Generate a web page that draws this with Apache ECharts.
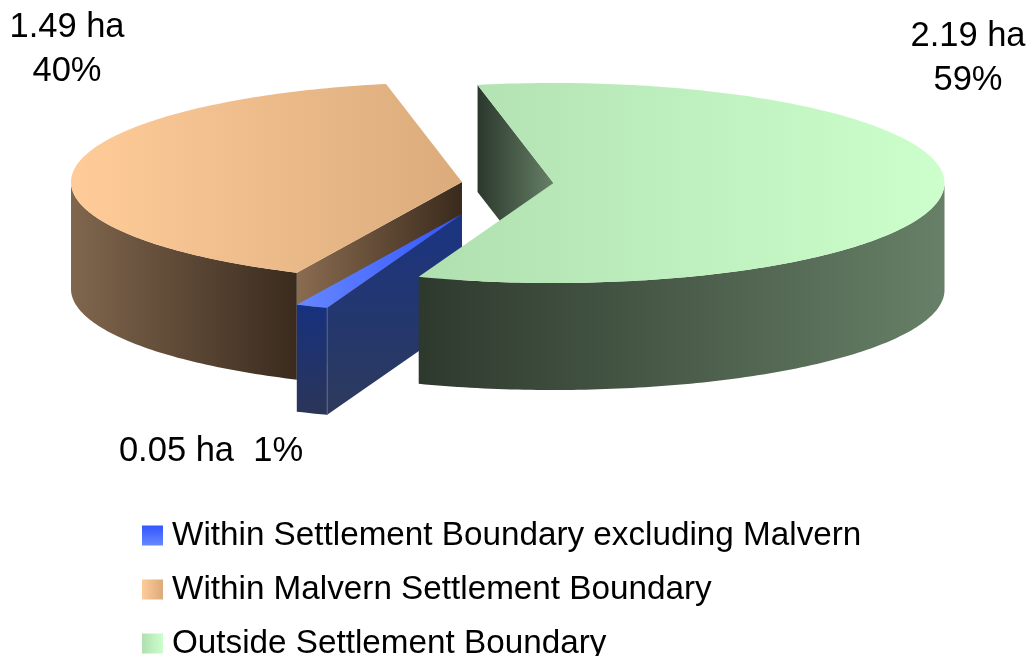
<!DOCTYPE html>
<html>
<head>
<meta charset="utf-8">
<style>
  html, body { margin: 0; padding: 0; background: #fff; }
  #main { width: 1034px; height: 656px; }
</style>
<script src="https://cdn.jsdelivr.net/npm/echarts@6/dist/echarts.min.js"></script>
</head>
<body>
<div id="main"></div>
<script>
// slices, clockwise from the top of the pie
var categories = ['Outside Settlement Boundary', 'Within Settlement Boundary excluding Malvern', 'Within Malvern Settlement Boundary'];
var hectares = [2.19, 0.05, 1.49];
var legendOrder = ['Within Settlement Boundary excluding Malvern', 'Within Malvern Settlement Boundary', 'Outside Settlement Boundary'];

// pie projection
var RX = 391, RY = 100, DEPTH = 107, START_ANGLE = -11.2;
var FONT = 'Liberation Sans';

var total = hectares.reduce(function (a, b) { return a + b; }, 0);

function gradH(c0, c1) {
    return { type: 'linear', x: 0, y: 0, x2: 1, y2: 0, colorStops: [{ offset: 0, color: c0 }, { offset: 1, color: c1 }] };
}
function gradV(c0, c1) {
    return { type: 'linear', x: 0, y: 0, x2: 0, y2: 1, colorStops: [{ offset: 0, color: c0 }, { offset: 1, color: c1 }] };
}

// angle range of each slice in degrees
var angles = [];
(function () {
    var a = START_ANGLE;
    for (var i = 0; i < hectares.length; i++) {
        var b = a + hectares[i] / total * 360;
        angles.push([a, b]);
        a = b;
    }
})();

function pt(c, deg, drop) {
    var r = deg * Math.PI / 180;
    return [c.x + RX * Math.sin(r), c.y - RY * Math.cos(r) + (drop || 0)];
}
function arc(c, a0, a1, drop) {
    var pts = [];
    var n = Math.max(2, Math.ceil(Math.abs(a1 - a0)));
    for (var i = 0; i <= n; i++) pts.push(pt(c, a0 + (a1 - a0) * i / n, drop));
    return pts;
}
function poly(points, fill) {
    return { type: 'polygon', shape: { points: points }, style: { fill: fill } };
}
function outerWall(c, a0, a1, fill) {
    return poly(arc(c, a0, a1, 0).concat(arc(c, a1, a0, DEPTH)), fill);
}
function topFace(c, a0, a1, fill) {
    return poly([[c.x, c.y]].concat(arc(c, a0, a1, 0)), fill);
}
function radialFace(c, deg, fill) {
    var p = pt(c, deg, 0);
    return poly([[c.x, c.y], p, [p[0], p[1] + DEPTH], [c.x, c.y + DEPTH]], fill);
}
function frontEdge(c, deg, color) {
    var p = pt(c, deg, 0);
    return { type: 'line', shape: { x1: p[0], y1: p[1], x2: p[0], y2: p[1] + DEPTH }, style: { stroke: color, lineWidth: 1 } };
}
function label(lines, x, y) {
    return lines.map(function (t, i) {
        return {
            type: 'text',
            style: { text: t, x: x, y: y + i * 44.5, align: 'center', verticalAlign: 'middle', font: '34.5px "' + FONT + '"', fill: '#000' }
        };
    });
}
function haText(i) { return hectares[i].toFixed(2) + ' ha'; }
function pctText(i) { return Math.round(hectares[i] / total * 100) + '%'; }

var drawers = [
    // green, drawn last so it sits over the blue face
    function () {
        var c = { x: 553.5, y: 183 }, a = angles[0];
        return [
            radialFace(c, a[0], gradH('#2b382c', '#668066')),
            outerWall(c, 90, a[1], gradH('#2e392d', '#678067')),
            topFace(c, a[0], a[1], gradH('#b0dfb0', '#ccffcc'))
        ].concat(label([haText(0), pctText(0)], 968, 36));
    },
    function () {
        var c = { x: 462, y: 214 }, a = angles[1];
        return [
            outerWall(c, a[0], a[1], gradV('#16317f', '#2b3557')),
            radialFace(c, a[0], gradV('#1a3482', '#2d3a5c')),
            frontEdge(c, a[0], '#5c6888'),
            topFace(c, a[0], a[1], gradH('#6688ff', '#3355ff'))
        ].concat(label([haText(1) + '  ' + pctText(1)], 211, 451));
    },
    function () {
        var c = { x: 462, y: 182 }, a = angles[2];
        return [
            radialFace(c, a[0], gradH('#8a6c50', '#3a2a1c')),
            outerWall(c, a[0], 270, gradH('#80664d', '#3a2b1e')),
            topFace(c, a[0], a[1], gradH('#ffcc99', '#dbab7c'))
        ].concat(label([haText(2), pctText(2)], 67, 27));
    }
];

var swatches = [gradH('#b0dfb0', '#ccffcc'), gradV('#3355ff', '#6688ff'), gradH('#ffcc99', '#dbab7c')];
var zOrder = [3, 2, 1];

var series = categories.map(function (name, i) {
    return {
        name: name,
        type: 'custom',
        coordinateSystem: 'none',
        z: zOrder[i],
        silent: true,
        animation: false,
        itemStyle: { color: swatches[i] },
        data: [hectares[i]],
        renderItem: function () {
            return { type: 'group', children: drawers[i]() };
        }
    };
});

var myChart = echarts.init(document.getElementById('main'), null, { renderer: 'canvas' });
myChart.setOption({
    animation: false,
    backgroundColor: '#fff',
    legend: {
        orient: 'vertical',
        left: 142,
        top: 519,
        height: 300,
        padding: 0,
        selectedMode: false,
        icon: 'rect',
        itemWidth: 21,
        itemHeight: 20,
        itemGap: 21,
        textStyle: { fontFamily: FONT, fontSize: 33.25, color: '#000', padding: [0, 0, 0, 4] },
        data: legendOrder.map(function (n) {
            return { name: n, itemStyle: { color: swatches[categories.indexOf(n)] } };
        })
    },
    series: series
});
</script>
</body>
</html>
